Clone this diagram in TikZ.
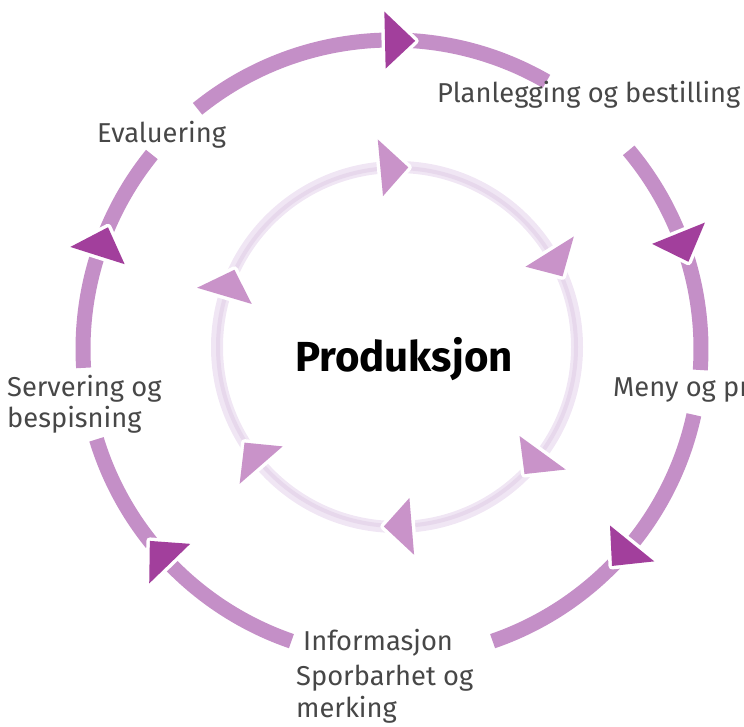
\documentclass[tikz,border=0pt]{standalone}
\usepackage{fontspec}
\setmainfont{Fira Sans}
\usetikzlibrary{calc}
\definecolor{ringout}{HTML}{C48FC7}
\definecolor{triout}{HTML}{A23F9C}
\definecolor{ringin}{HTML}{F0E6F4}
\definecolor{ringinmid}{HTML}{E7D8EC}
\definecolor{triin}{HTML}{C993C9}
\definecolor{txt}{HTML}{474747}
\newcommand\arrowtri[6]{%
  \draw[draw=white, line width=7pt, line join=round, fill=white]
    ($(#1)+(#3:{#2-#5})$) -- ($(#1)+(#3:{#2+#5})$) -- ($(#1)+({#3-#4}:#2)$) -- cycle;
  \fill[#6]
    ($(#1)+(#3:{#2-#5})$) -- ($(#1)+(#3:{#2+#5})$) -- ($(#1)+({#3-#4}:#2)$) -- cycle;}
\tikzset{
  outring/.style={draw=ringout, line width=15pt},
  lbl/.style={font=\fontsize{27.3}{33}\selectfont, text=txt, inner sep=0pt, anchor=base west},
}
\begin{document}
\begin{tikzpicture}[x=1pt,y=1pt]
\useasboundingbox (0,0) rectangle (744,727);
\coordinate (O) at (392,378);
\coordinate (I) at (397,380);
% inner ring
\draw[draw=ringin, line width=12pt] (I) circle[radius=180];
\draw[draw=ringinmid, line width=4pt] (I) circle[radius=179];
% outer ring segments
\draw[outring] ($(O)+(-3.9:309)$) arc[start angle=-3.9, end angle=40, radius=309];
\draw[outring] ($(O)+(60:309)$) arc[start angle=60, end angle=129, radius=309];
\draw[outring] ($(O)+(141:309)$) arc[start angle=141, end angle=183.5, radius=309];
\draw[outring] ($(O)+(197:309)$) arc[start angle=197, end angle=251, radius=309];
\draw[outring] ($(O)+(-71:309)$) arc[start angle=-71, end angle=-12.3, radius=309];
% outer arrowheads
\arrowtri{O}{309}{91.3}{5.6}{28.5}{triout}
\arrowtri{O}{309}{22}{5.6}{28.5}{triout}
\arrowtri{O}{309}{-39}{5.6}{28.5}{triout}
\arrowtri{O}{309}{-136}{5.6}{28.5}{triout}
\arrowtri{O}{309}{162.4}{5.6}{28.5}{triout}
% inner arrowheads
\arrowtri{I}{180}{95.3}{8.9}{28.5}{triin}
\arrowtri{I}{180}{32}{8.9}{28.5}{triin}
\arrowtri{I}{180}{-36}{8.9}{28.5}{triin}
\arrowtri{I}{180}{-85.3}{8.9}{28.5}{triin}
\arrowtri{I}{180}{-139}{8.9}{28.5}{triin}
\arrowtri{I}{180}{163.5}{8.9}{28.5}{triin}
% labels
\node[font=\fontsize{42}{48}\bfseries, text=black, inner sep=0pt, anchor=base] (prod) at (404,355) {Produksjon};
\node[lbl] (plan) at (437,624) {Planlegging og bestilling};
\node[lbl] (eval) at (97,584) {Evaluering};
\node[lbl] (serv1) at (7,330) {Servering og};
\node[lbl] (serv2) at (7,299) {bespisning};
\node[lbl] (meny) at (613,330) {Meny og pr};
\node[lbl] (info1) at (303,76) {Informasjon};
\node[lbl] (info2) at (296,41) {Sporbarhet og};
\node[lbl] (info3) at (296,9) {merking};
\end{tikzpicture}
\end{document}
